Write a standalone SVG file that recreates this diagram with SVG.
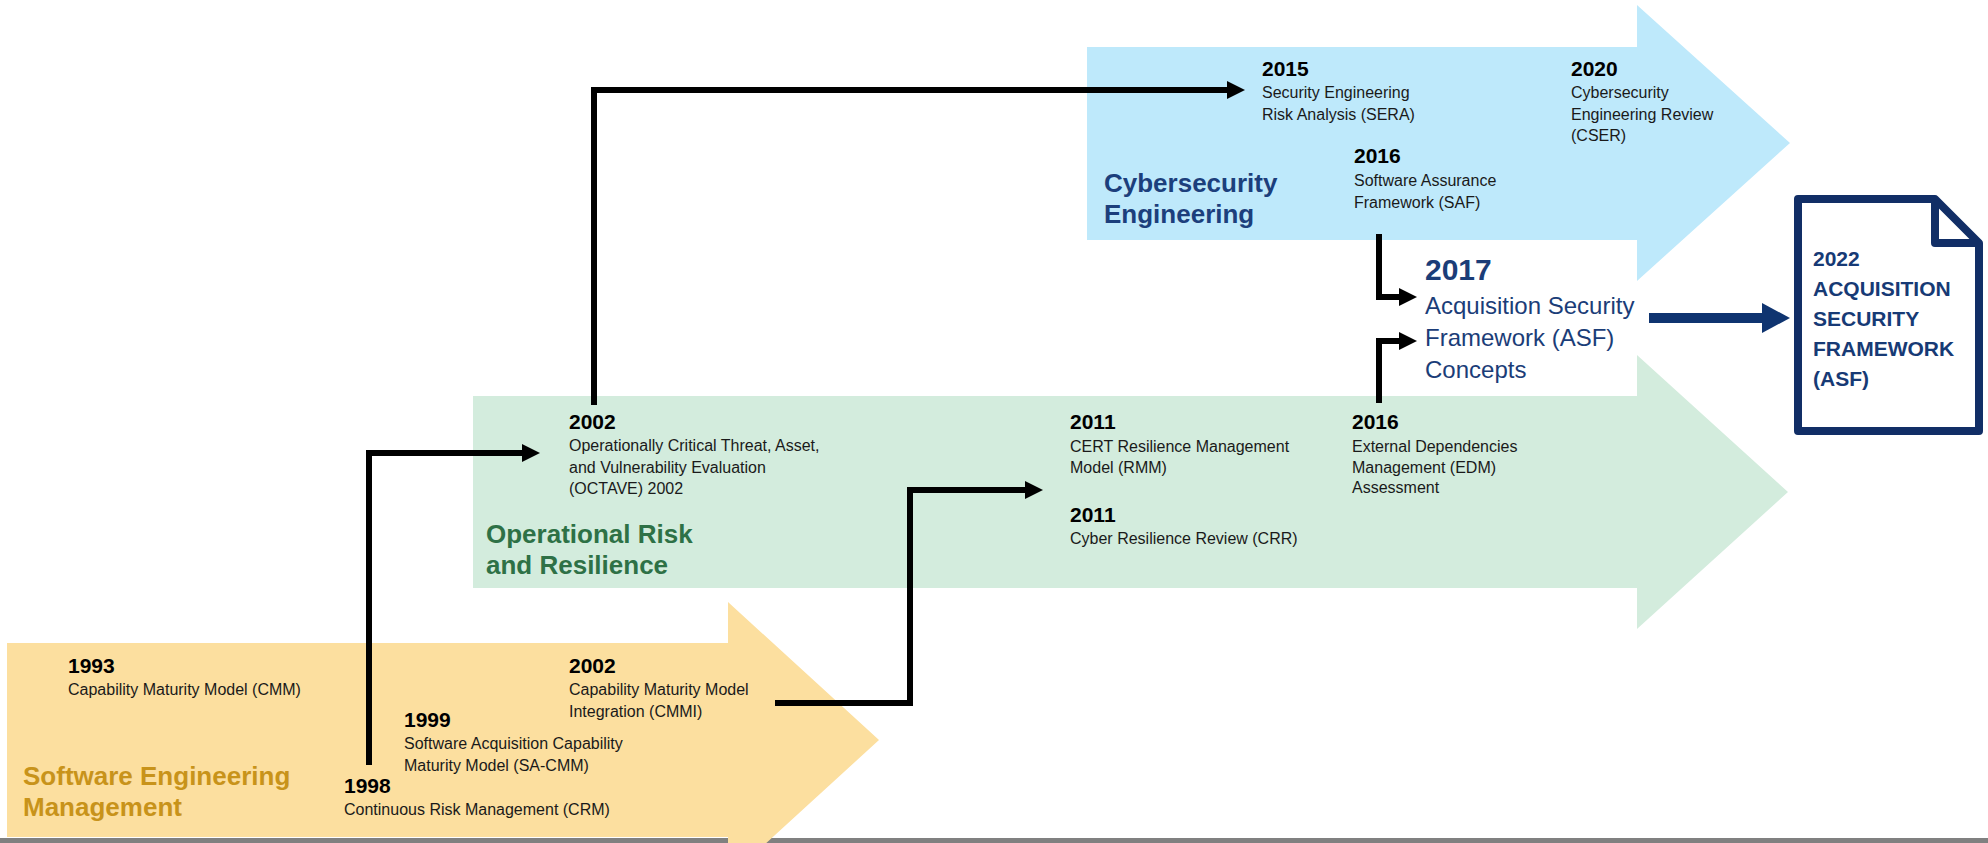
<svg xmlns="http://www.w3.org/2000/svg" width="1988" height="843" viewBox="0 0 1988 843">
<style>
text{font-family:"Liberation Sans",Arial,sans-serif;}
.yr{font-size:21px;font-weight:bold;fill:#000;}
.t{font-size:16px;fill:#1a1a1a;}
.ttl{font-size:26px;font-weight:bold;}
.conn{fill:none;stroke:#000;stroke-width:6;stroke-linejoin:miter;}
</style>
<defs>
<marker id="ah" markerUnits="userSpaceOnUse" markerWidth="18" markerHeight="18" refX="0" refY="9" orient="auto" overflow="visible">
<path d="M0,0 L18,9 L0,18 Z" fill="#000"/>
</marker>
<marker id="ahn" markerUnits="userSpaceOnUse" markerWidth="28" markerHeight="30" refX="0" refY="15" orient="auto" overflow="visible">
<path d="M0,0 L28,15 L0,30 Z" fill="#0F3470"/>
</marker>
</defs>
<rect x="0" y="0" width="1988" height="843" fill="#fff"/>
<rect x="0" y="838" width="1988" height="5" fill="#808080"/>

<g id="band-software">
<polygon points="7,643 728,643 728,602 879,740 728,878 728,837 7,837" fill="#FCDF9F"/>
<text class="ttl" x="23" y="785" fill="#C8931A">Software Engineering</text>
<text class="ttl" x="23" y="816" fill="#C8931A">Management</text>
</g>
<g id="band-operational">
<polygon points="473,396 1637,396 1637,355 1788,492 1637,629 1637,588 473,588" fill="#D3ECDD"/>
<text class="ttl" x="486" y="543" fill="#2E7146">Operational Risk</text>
<text class="ttl" x="486" y="574" fill="#2E7146">and Resilience</text>
</g>
<g id="band-cyber">
<polygon points="1087,47 1637,47 1637,5 1790,143 1637,281 1637,240 1087,240" fill="#BEE9FB"/>
<text class="ttl" x="1104" y="192" fill="#1C3F7C">Cybersecurity</text>
<text class="ttl" x="1104" y="223" fill="#1C3F7C">Engineering</text>
</g>

<g id="n-1993">
<text class="yr" x="68" y="673">1993</text>
<text class="t" x="68" y="695">Capability Maturity Model (CMM)</text>
</g>
<g id="n-1998">
<text class="yr" x="344" y="793">1998</text>
<text class="t" x="344" y="815">Continuous Risk Management (CRM)</text>
</g>
<g id="n-1999">
<text class="yr" x="404" y="727">1999</text>
<text class="t" x="404" y="749">Software Acquisition Capability</text>
<text class="t" x="404" y="771">Maturity Model (SA-CMM)</text>
</g>
<g id="n-2002-cmmi">
<text class="yr" x="569" y="673">2002</text>
<text class="t" x="569" y="695">Capability Maturity Model</text>
<text class="t" x="569" y="717">Integration (CMMI)</text>
</g>
<g id="n-2002-octave">
<text class="yr" x="569" y="429">2002</text>
<text class="t" x="569" y="451">Operationally Critical Threat, Asset,</text>
<text class="t" x="569" y="473">and Vulnerability Evaluation</text>
<text class="t" x="569" y="494">(OCTAVE) 2002</text>
</g>
<g id="n-2011-rmm">
<text class="yr" x="1070" y="429">2011</text>
<text class="t" x="1070" y="452">CERT Resilience Management</text>
<text class="t" x="1070" y="473">Model (RMM)</text>
</g>
<g id="n-2011-crr">
<text class="yr" x="1070" y="522">2011</text>
<text class="t" x="1070" y="544">Cyber Resilience Review (CRR)</text>
</g>
<g id="n-2016-edm">
<text class="yr" x="1352" y="429">2016</text>
<text class="t" x="1352" y="452">External Dependencies</text>
<text class="t" x="1352" y="473">Management (EDM)</text>
<text class="t" x="1352" y="493">Assessment</text>
</g>
<g id="n-2015-sera">
<text class="yr" x="1262" y="76">2015</text>
<text class="t" x="1262" y="98">Security Engineering</text>
<text class="t" x="1262" y="120">Risk Analysis (SERA)</text>
</g>
<g id="n-2020-cser">
<text class="yr" x="1571" y="76">2020</text>
<text class="t" x="1571" y="98">Cybersecurity</text>
<text class="t" x="1571" y="120">Engineering Review</text>
<text class="t" x="1571" y="141">(CSER)</text>
</g>
<g id="n-2016-saf">
<text class="yr" x="1354" y="163">2016</text>
<text class="t" x="1354" y="186">Software Assurance</text>
<text class="t" x="1354" y="208">Framework (SAF)</text>
</g>
<g id="n-2017-asf">
<text x="1425" y="280" font-size="30" font-weight="bold" fill="#1B3D78">2017</text>
<text x="1425" y="314" font-size="24" fill="#1B3D78">Acquisition Security</text>
<text x="1425" y="346" font-size="24" fill="#1B3D78">Framework (ASF)</text>
<text x="1425" y="378" font-size="24" fill="#1B3D78">Concepts</text>
</g>
<g id="n-2022-asf">
<path d="M1798,199 H1935 L1979,243 V431 H1798 Z" fill="#fff" stroke="#112E66" stroke-width="8" stroke-linejoin="round"/>
<path d="M1935,199 V243 H1979" fill="none" stroke="#112E66" stroke-width="8" stroke-linejoin="round"/>
<text x="1813" y="266" font-size="21" font-weight="bold" fill="#173A75">2022</text>
<text x="1813" y="296" font-size="21" font-weight="bold" fill="#173A75">ACQUISITION</text>
<text x="1813" y="326" font-size="21" font-weight="bold" fill="#173A75">SECURITY</text>
<text x="1813" y="356" font-size="21" font-weight="bold" fill="#173A75">FRAMEWORK</text>
<text x="1813" y="386" font-size="21" font-weight="bold" fill="#173A75">(ASF)</text>
</g>

<g id="connectors">
<path class="conn" d="M369,765 V453 H522" marker-end="url(#ah)"/>
<path class="conn" d="M594,405 V90 H1227" marker-end="url(#ah)"/>
<path class="conn" d="M775,703 H910 V490 H1025" marker-end="url(#ah)"/>
<path class="conn" d="M1379,234 V297 H1399" marker-end="url(#ah)"/>
<path class="conn" d="M1379,403 V341 H1399" marker-end="url(#ah)"/>
<path d="M1649,318 H1762" fill="none" stroke="#0F3470" stroke-width="10" marker-end="url(#ahn)"/>
</g>
</svg>
